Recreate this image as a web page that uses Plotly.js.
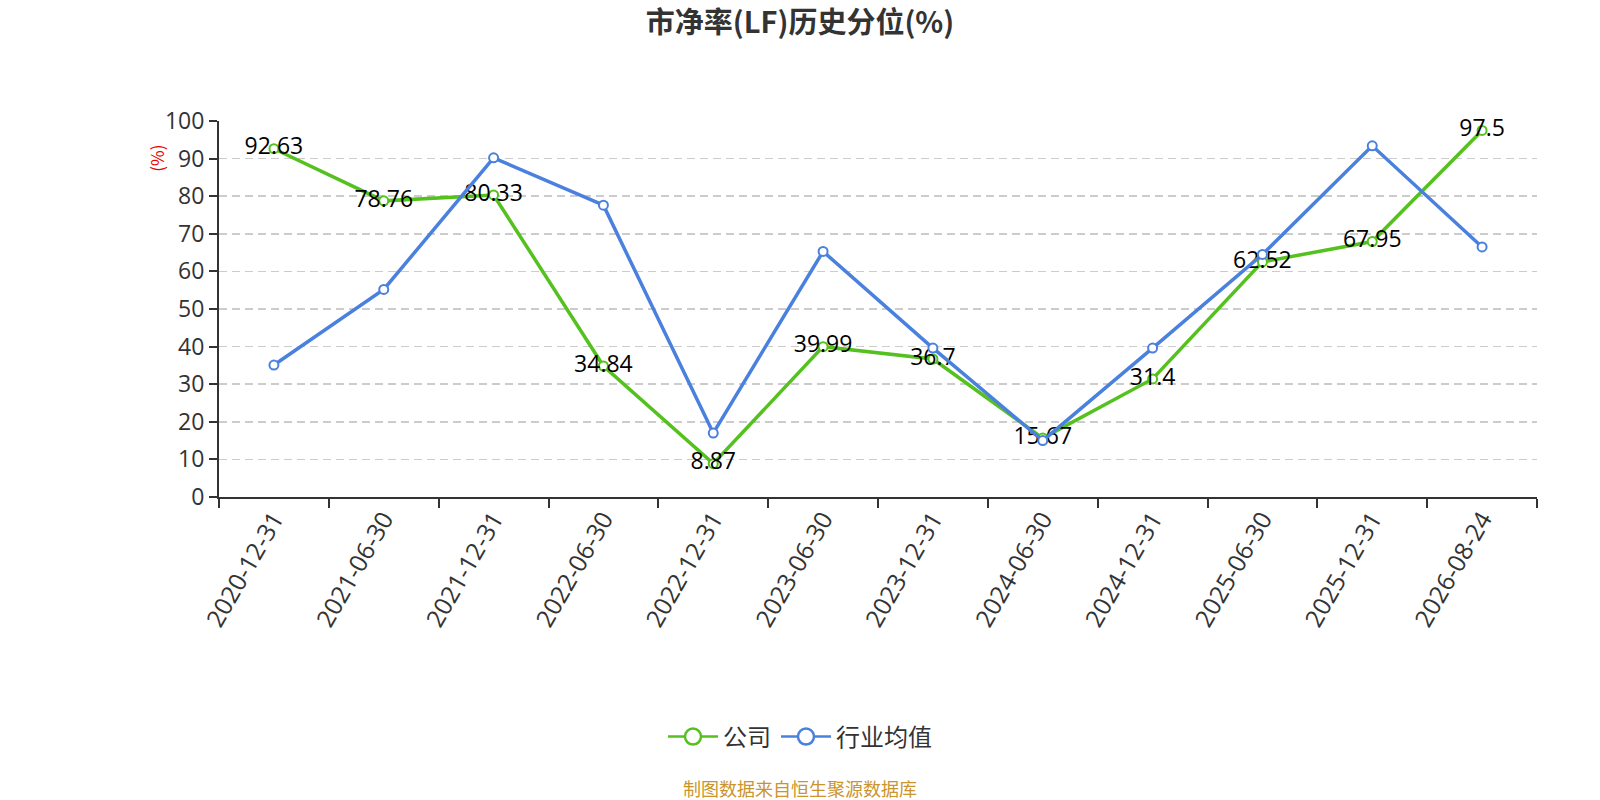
<!DOCTYPE html>
<html>
<head>
<meta charset="utf-8">
<script src="https://cdn.plot.ly/plotly-3.0.1.min.js"></script>
<style>
  html, body { margin: 0; padding: 0; background: #fff; }
  #plot { width: 1600px; height: 800px; }
</style>
</head>
<body>
<div id="plot"></div>
<script>
// report dates on the x axis
const dates = ['2020-12-31', '2021-06-30', '2021-12-31', '2022-06-30', '2022-12-31', '2023-06-30',
               '2023-12-31', '2024-06-30', '2024-12-31', '2025-06-30', '2025-12-31', '2026-08-24'];

// company percentile (labels)
const company = [92.63, 78.76, 80.33, 34.84, 8.87, 39.99, 36.7, 15.67, 31.4, 62.52, 67.95, 97.5];

// industry average percentile (estimated from the line)
const industry = [35.1, 55.2, 90.2, 77.6, 17.0, 65.3, 39.6, 15.0, 39.6, 64.5, 93.4, 66.5];

const yTicks = [0, 10, 20, 30, 40, 50, 60, 70, 80, 90, 100];

const green = '#55c11e';
const blue = '#4a80de';
const cjk = 'Noto Sans CJK SC, Noto Sans, sans-serif';
const latin = 'Open Sans, Noto Sans CJK SC, sans-serif';

// plot area runs from x=219 to x=1537 px, so page centre (800) in paper units:
const pageMid = (800 - 219) / (1537 - 219);

function lineTrace(y, color, name, withLabels) {
  let trace = {
    x: dates,
    y: y,
    name: name,
    type: 'scatter',
    mode: withLabels ? 'lines+markers+text' : 'lines+markers',
    line: { color: color, width: 3.5 },
    marker: { symbol: 'circle', size: 9, color: '#fff', line: { color: color, width: 2 } },
    showlegend: false,
    cliponaxis: false,
    hoverinfo: 'x+y',
  };
  if (withLabels) {
    trace.text = y.map(function (v) { return String(v); });
    trace.textposition = 'middle center';
    trace.textfont = { family: latin, size: 23, color: '#000' };
  }
  return trace;
}

// legend-only entries, so the legend circles can be drawn larger
function legendTrace(color, name) {
  return {
    x: [null],
    y: [null],
    name: name,
    type: 'scatter',
    mode: 'lines+markers',
    line: { color: color, width: 2.5 },
    marker: { symbol: 'circle', size: 19, color: '#fff', line: { color: color, width: 2.5 } },
  };
}

// green first, blue on top (the blue line crosses the green labels in the original)
const traces = [
  lineTrace(company, green, '公司', true),
  lineTrace(industry, blue, '行业均值', false),
  legendTrace(green, '公司'),
  legendTrace(blue, '行业均值'),
];

const layout = {
  width: 1600,
  height: 800,
  margin: { l: 219, r: 63, t: 121, b: 303 },
  paper_bgcolor: '#fff',
  plot_bgcolor: '#fff',
  font: { family: cjk, color: '#333' },
  title: {
    text: '<b>市净率(LF)历史分位(%)</b>',
    font: { family: cjk, size: 29, color: '#333' },
    x: 0.5,
    xanchor: 'center',
    y: 0.971,
    yanchor: 'middle',
  },
  xaxis: {
    type: 'category',
    range: [-0.5, dates.length - 0.5],
    tickson: 'boundaries',
    ticks: 'outside',
    ticklen: 9,
    tickwidth: 2,
    tickcolor: '#333',
    showline: true,
    linecolor: '#333',
    linewidth: 2,
    showgrid: false,
    zeroline: false,
    tickangle: -60,
    ticklabelstandoff: -4,
    tickfont: { family: latin, size: 24.5, color: '#333' },
    fixedrange: true,
  },
  yaxis: {
    range: [0, 100],
    tickvals: yTicks,
    ticks: 'outside',
    ticklen: 8,
    tickwidth: 2,
    tickcolor: '#333',
    showline: true,
    linecolor: '#333',
    linewidth: 2,
    showgrid: true,
    gridcolor: '#cccccc',
    griddash: '8px,5px',
    gridwidth: 1.5,
    zeroline: false,
    tickfont: { family: latin, size: 23, color: '#333' },
    fixedrange: true,
  },
  legend: {
    orientation: 'h',
    xref: 'container',
    yref: 'container',
    x: 0.5,
    xanchor: 'center',
    y: 1 - 737 / 800,
    yanchor: 'middle',
    font: { family: cjk, size: 24, color: '#333' },
    itemwidth: 50,
    tracegroupgap: 20,
  },
  annotations: [
    {
      text: '(%)',
      xref: 'paper', yref: 'paper',
      x: -0.047, y: 0.9,
      xanchor: 'center', yanchor: 'middle',
      textangle: -90,
      showarrow: false,
      font: { family: cjk, size: 17, color: '#e00' },
    },
    {
      text: '制图数据来自恒生聚源数据库',
      xref: 'paper', yref: 'paper',
      x: pageMid, y: -0.775,
      xanchor: 'center', yanchor: 'middle',
      showarrow: false,
      font: { family: cjk, size: 18, color: '#c9952c' },
    },
  ],
  showlegend: true,
};

Plotly.newPlot('plot', traces, layout, { displayModeBar: false, staticPlot: true });
</script>
</body>
</html>
